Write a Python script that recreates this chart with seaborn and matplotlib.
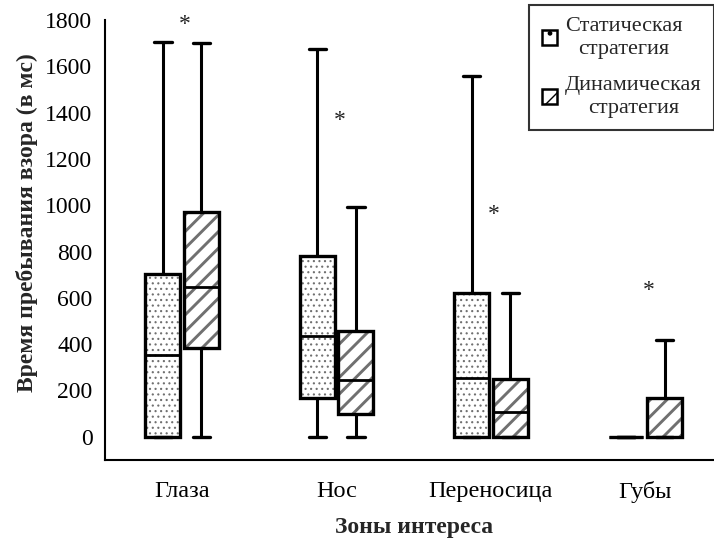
import numpy as np
import pandas as pd
import matplotlib
matplotlib.use("Agg")
import matplotlib.pyplot as plt
import seaborn as sns
from matplotlib.patches import Patch

categories = ["Глаза", "Нос", "Переносица", "Губы"]
strategies = ["Статическая\nстратегия", "Динамическая\nстратегия"]

# five-number summaries (min, q1, median, q3, max) in ms
static_min = [0, 0, 0, 0]
static_q1 = [0, 167, 0, 0]
static_med = [354, 436, 256, 0]
static_q3 = [703, 780, 623, 0]
static_max = [1705, 1673, 1558, 0]

dynamic_min = [0, 0, 0, 0]
dynamic_q1 = [383, 98, 0, 0]
dynamic_med = [649, 246, 109, 0]
dynamic_q3 = [970, 457, 249, 167]
dynamic_max = [1699, 991, 623, 416]

star_values = [1783, 1368, 962, 634]

rows = []
for i, c in enumerate(categories):
    for v in (static_min[i], static_q1[i], static_med[i], static_q3[i], static_max[i]):
        rows.append((c, strategies[0], v))
    for v in (dynamic_min[i], dynamic_q1[i], dynamic_med[i], dynamic_q3[i], dynamic_max[i]):
        rows.append((c, strategies[1], v))
df = pd.DataFrame(rows, columns=["zone", "strategy", "time"])

sns.set_theme(style="white")
plt.rcParams["font.family"] = ["Liberation Serif", "DejaVu Serif"]


def style_patch(p, kind):
    if kind == "static":
        p.set_hatch("...")
        lw, col = 0.8, "#707070"
    else:
        p.set_hatch("//")
        lw, col = 2.1, "#707070"
    if hasattr(p, "set_hatch_linewidth"):
        p.set_hatch_linewidth(lw)
    else:
        p._hatch_linewidth = lw
    p._hatch_color = matplotlib.colors.to_rgba(col)


fig = plt.figure(figsize=(7.14, 5.43), dpi=100)
ax = fig.add_axes([0.147, 0.153, 0.865, 0.810])

sns.boxplot(data=df, x="zone", y="time", hue="strategy", order=categories,
            hue_order=strategies, palette=["white", "white"], whis=(0, 100),
            width=0.5, gap=0.1, linewidth=2.4, linecolor="black", fliersize=0,
            legend=False, ax=ax,
            capprops=dict(linewidth=2.4), whiskerprops=dict(linewidth=2.2),
            medianprops=dict(linewidth=2, color="black"))

for p in ax.patches:
    verts = p.get_path().vertices
    xc = verts[:, 0].mean()
    style_patch(p, "static" if xc - round(xc) < 0 else "dynamic")

for i, s in enumerate(star_values):
    ax.text(i + 0.02, s, "*", ha="center", va="center", fontsize=17, color="#222222")

ax.set_xlim(-0.5, 3.5)
ax.set_ylim(-100, 1800)
ax.set_yticks(range(0, 1801, 200))
ax.tick_params(axis="y", length=0, labelsize=17, colors="black", pad=9)
ax.tick_params(axis="x", length=0, labelsize=17.5, colors="black", pad=15)
for sp in ["top", "right"]:
    ax.spines[sp].set_visible(False)
for sp in ["left", "bottom"]:
    ax.spines[sp].set_color("black")
    ax.spines[sp].set_linewidth(1.5)
ax.set_xlabel("Зоны интереса", fontsize=17, fontweight="bold", labelpad=10)
ax.set_ylabel("Время пребывания взора (в мс)", fontsize=17, fontweight="bold")
ax.yaxis.set_label_coords(-0.108, 0.54)

h1 = Patch(facecolor="white", edgecolor="black", linewidth=1.8)
h2 = Patch(facecolor="white", edgecolor="black", linewidth=1.8)
h1.set_hatch(".")
h2.set_hatch("//")
leg = fig.legend([h1, h2], strategies, loc="upper right", bbox_to_anchor=(1.0, 0.991),
                 fontsize=16, frameon=True, fancybox=False, handlelength=0.68,
                 handleheight=0.68, handletextpad=0.38, borderpad=0.55, labelspacing=0.75,
                 borderaxespad=0.0)
leg.get_frame().set_edgecolor("black")
leg.get_frame().set_linewidth(1.5)
for t in leg.get_texts():
    t.set_multialignment("center")
    t.set_linespacing(1.3)

fig.savefig("out.png", dpi=100)
